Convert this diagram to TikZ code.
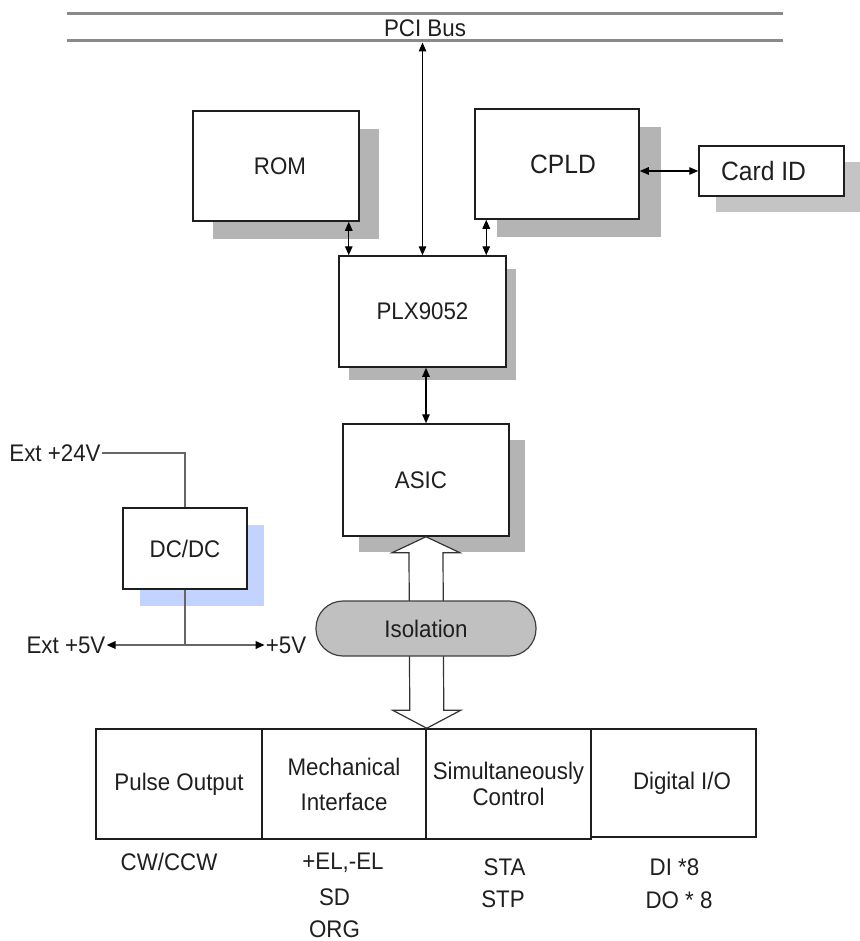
\documentclass[tikz,border=0pt]{standalone}
\usepackage{fontspec}
\setmainfont[FakeStretch=0.93]{Liberation Sans}
\usetikzlibrary{arrows.meta,shadows,calc}
\definecolor{shd}{HTML}{B4B4B4}
\definecolor{shdl}{HTML}{C4C4C4}
\definecolor{shdb}{HTML}{C3D3FF}
\definecolor{isofill}{HTML}{C0C0C0}
\definecolor{wirec}{HTML}{666666}
\definecolor{busc}{HTML}{8A8A8A}
\definecolor{linec}{HTML}{1E1E1E}
\begin{document}
\begin{tikzpicture}[x=1pt,y=-1pt,
  every node/.style={font=\fontsize{24}{26}\selectfont, text=black!88},
  big/.style={font=\fontsize{26.5}{28}\selectfont},
  blk/.style={draw=linec, line width=1.5pt, fill=white, inner sep=0pt, align=center},
  shbox/.style n args={3}{drop shadow={shadow xshift=#1pt, shadow yshift=-#2pt, opacity=1, fill=#3, draw=none}},
  bus/.style={draw=busc, line width=3pt},
  tipk/.tip={Triangle[length=9pt,width=7.5pt,color=black]},
  dbl/.style={draw=black, line width=1.3pt, tipk-tipk},
  wire/.style={draw=wirec, line width=1.8pt},
  hollow/.style={draw=black!80, line width=1.2pt, fill=white, line join=miter},
  iso/.style={draw=black!75, line width=1.2pt, fill=isofill, rounded corners=27pt, minimum width=220pt, minimum height=55pt, inner sep=0pt},
  lbl/.style={inner sep=1pt}
]
\useasboundingbox (0,0) rectangle (859,941);

% PCI bus
\coordinate (busTL) at (67,14);
\coordinate (busTR) at (783,14);
\coordinate (busBL) at (67,41);
\coordinate (busBR) at (783,41);
\draw[bus] (busTL) -- (busTR);
\draw[bus] (busBL) -- (busBR);
\node (pci) at (425,28) {PCI Bus};

% main boxes
\node[blk, shbox={20}{18}{shd}, minimum width=166pt, minimum height=110pt] (rom) at (276,166) {\hspace*{8pt}ROM};
\node[blk, big, shbox={22}{18}{shd}, minimum width=164pt, minimum height=110pt] (cpld) at (557,164) {\hspace*{12pt}CPLD};
\node[blk, big, shbox={17}{16}{shdl}, minimum width=145pt, minimum height=50pt] (card) at (771.5,171) {Card ID\hspace*{16pt}};
\node[blk, shbox={10}{13}{shd}, minimum width=167pt, minimum height=111pt] (plx) at (422.5,311.5) {PLX9052};
\node[blk, shbox={16}{16}{shd}, minimum width=166pt, minimum height=112pt] (asic) at (426,480) {ASIC\hspace*{10pt}};

% connectors
\draw[dbl] ([yshift=-1.5pt]plx.north |- busBL) -- (plx.north);
\draw[dbl] ([xshift=-11pt]rom.south east) -- ([xshift=-11pt]rom.south east |- plx.north);
\draw[dbl] ([xshift=12pt]cpld.south west) -- ([xshift=12pt]cpld.south west |- plx.north);
\draw[dbl] (cpld.east |- card.west) -- (card.west);
\draw[dbl] (asic.north |- plx.south) -- (asic.north);

% bottom boxes
\node[blk, minimum width=166pt, minimum height=110pt] (b1) at (179,784) {Pulse Output};
\node[blk, minimum width=164pt, minimum height=110pt] (b2) at (344,784) {Mechanical\\[9pt]Interface};
\node[blk, minimum width=165pt, minimum height=110pt] (b3) at (508.5,784) {Simultaneously\\Control};
\node[blk, minimum width=165pt, minimum height=108pt] (b4) at (673.5,783) {\hspace*{17pt}Digital I/O};

% hollow double arrow through isolation
\path (asic.south) coordinate (at1) (b2.north east) coordinate (ab1);
\draw[hollow] (at1) -- ++(34,16) -- ++(-17,0) -- ($(ab1)+(17,-18)$) -- ++(17,0) -- (ab1)
  -- ++(-34,-18) -- ++(17,0) -- ($(at1)+(-17,16)$) -- ++(-17,0) -- cycle;
\node[iso] (iso) at (426,628.5) {Isolation};

% power section
\node[blk, shbox={17}{17}{shdb}, minimum width=124pt, minimum height=81pt] (dcdc) at (185,548.5) {DC/DC};
\node[lbl] (e24) at (55,453) {Ext +24V};
\draw[wire] (e24.east) -| (dcdc.north);
\coordinate (jn) at (dcdc.south |- 0,645);
\node[lbl] (e5) at (66,645) {Ext +5V};
\node[lbl] (p5) at (286,645) {+5V};
\draw[wire] (dcdc.south) -- (jn);
\draw[wire, -tipk] (jn) -- (e5.east);
\draw[wire, -tipk] (jn) -- (p5.west);

% signal labels
\node[lbl] (cw) at (169,862) {CW/CCW};
\node[lbl] (el) at (343,863) {+EL,-EL};
\node[lbl] (sd) at (334.5,897) {SD};
\node[lbl] (org) at (334.5,929) {ORG};
\node[lbl] (sta) at (504.5,867) {STA};
\node[lbl] (stp) at (503,899) {STP};
\node[lbl] (di) at (674.5,867) {DI *8};
\node[lbl] (do) at (679,900) {DO * 8};
\end{tikzpicture}
\end{document}
